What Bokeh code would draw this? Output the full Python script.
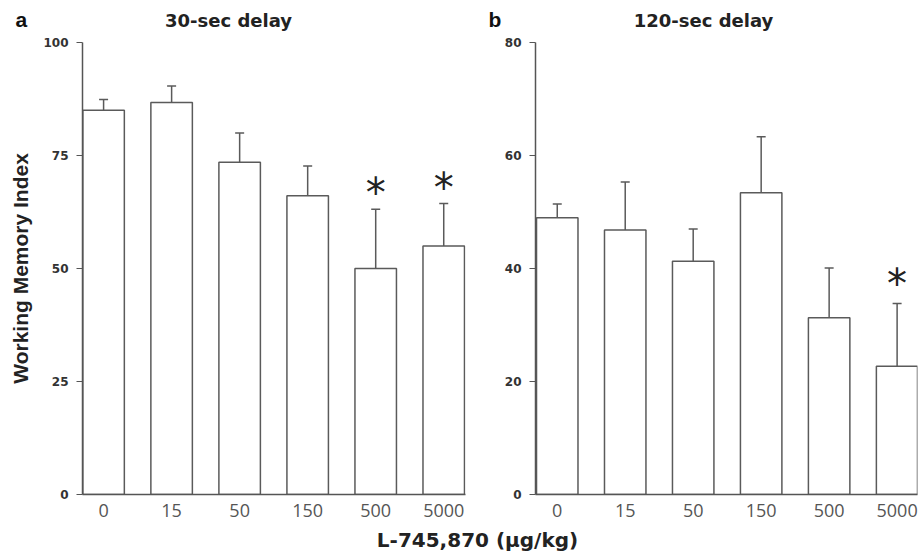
from bokeh.plotting import figure
from bokeh.models import ColumnDataSource, Whisker, Label, FixedTicker, TeeHead
from bokeh.layouts import row, column
from bokeh.core.properties import value
from bokeh.embed import file_html
from bokeh.resources import INLINE

# ---- data ----
doses = ["0", "15", "50", "150", "500", "5000"]
means_30 = [85.0, 86.7, 73.5, 66.1, 50.0, 55.0]
sem_30 = [2.4, 3.7, 6.5, 6.6, 13.1, 9.4]
star_30 = [None, None, None, None, 68.1, 69.1]   # height of significance asterisk

means_120 = [49.0, 46.8, 41.3, 53.4, 31.3, 22.7]
sem_120 = [2.4, 8.5, 5.7, 9.9, 8.8, 11.1]
star_120 = [None, None, None, None, None, 38.3]

yticks_30 = [0, 25, 50, 75, 100]
yticks_120 = [0, 20, 40, 60, 80]

panel_letters = ["a", "b"]
panel_titles = ["30-sec delay", "120-sec delay"]
y_title = "Working Memory Index"
x_title = "L-745,870 (\u03bcg/kg)"

GREY = "#5a5a5a"
AXIS = "#555555"


def panel(means, sems, stars, yticks, ymax, width, left, right, top, xr, ylabel=None):
    xs = list(range(len(doses)))
    src = ColumnDataSource(dict(
        x=xs, mean=means, upper=[m + s for m, s in zip(means, sems)],
        label=doses))
    frame_h = 452 if ymax == 100 else 453
    p = figure(width=width, height=488, x_range=xr, y_range=(0, ymax),
               output_backend="svg", toolbar_location=None, title=None,
               min_border_left=left, min_border_right=right,
               min_border_top=top, min_border_bottom=488 - top - frame_h)
    p.xgrid.visible = False
    p.ygrid.visible = False
    p.outline_line_color = None
    p.background_fill_color = "white"

    p.vbar(x="x", top="mean", bottom=0, width=0.61, source=src,
           fill_color="white", line_color=GREY, line_width=1.5)
    w = Whisker(source=src, base="x", upper="upper", lower="mean",
                dimension="height", line_color=GREY, line_width=1.5,
                upper_head=TeeHead(size=9, line_color=GREY, line_width=1.5),
                lower_head=None)
    p.add_layout(w)

    sx = [x for x, s in zip(xs, stars) if s is not None]
    sy = [s for s in stars if s is not None]
    if sx:
        p.text(x=sx, y=sy, text=["*"] * len(sx), text_align="center",
               text_baseline="middle", y_offset=6,
               text_font=value("DejaVu Sans"), text_font_size="40px",
               text_color="#222222")

    # y axis
    ya = p.yaxis[0]
    ya.ticker = FixedTicker(ticks=yticks)
    ya.minor_tick_line_color = None
    ya.major_tick_out = 6
    ya.major_tick_in = 0
    ya.axis_line_color = AXIS
    ya.axis_line_width = 1.5
    ya.major_tick_line_color = AXIS
    ya.major_label_standoff = 8
    ya.major_label_text_font = "DejaVu Sans"
    ya.major_label_text_font_style = "bold"
    ya.major_label_text_font_size = "12px"
    ya.major_label_text_color = "#333333"
    if ylabel:
        ya.axis_label = ylabel
        ya.axis_label_text_font = "Liberation Sans"
        ya.axis_label_text_font_style = "bold"
        ya.axis_label_text_font_size = "21px"
        ya.axis_label_text_color = "#222222"
        ya.axis_label_standoff = 8

    # x axis
    xa = p.xaxis[0]
    xa.ticker = FixedTicker(ticks=xs)
    xa.major_label_overrides = {i: d for i, d in enumerate(doses)}
    xa.minor_tick_line_color = None
    xa.major_tick_out = 0
    xa.major_tick_in = 0
    xa.axis_line_color = AXIS
    xa.axis_line_width = 1.5
    xa.major_label_standoff = 9
    xa.major_label_text_font = "Open Sans"
    xa.major_label_text_font_size = "18px"
    xa.major_label_text_color = "#555555"
    return p


pa = panel(means_30, sem_30, star_30, yticks_30, 100, 470, 82, 5, 8,
           (-0.31, 5.32), ylabel=y_title)
pb = panel(means_120, sem_120, star_120, yticks_120, 80, 448, 65, 1, 7,
           (-0.32, 5.30))


def text_strip(height):
    s = figure(width=918, height=height, x_range=(0, 918), y_range=(0, height),
               output_backend="svg", toolbar_location=None, title=None,
               x_axis_type=None, y_axis_type=None, min_border=0)
    s.grid.visible = False
    s.outline_line_color = None
    return s


# header with panel letters and titles
ph = text_strip(34)
for lx, tx, letter, title in zip([15, 488], [228, 703], panel_letters, panel_titles):
    ph.add_layout(Label(x=lx, y=15, text=letter, text_font="Liberation Sans",
                        text_font_style="bold", text_font_size="21px",
                        text_color="#111111", text_baseline="alphabetic"))
    ph.add_layout(Label(x=tx, y=14, text=title, text_font="DejaVu Sans",
                        text_font_style="bold", text_font_size="18px",
                        text_color="#222222", text_align="center",
                        text_baseline="alphabetic"))

# footer with shared x-axis title
pc = text_strip(31)
pc.add_layout(Label(x=477, y=14, text=x_title,
                    text_font="DejaVu Sans", text_font_style="bold",
                    text_font_size="20px", text_color="#222222",
                    text_align="center", text_baseline="alphabetic"))

layout = column(ph, row(pa, pb), pc)
open("out.html", "w").write(file_html(layout, INLINE))
